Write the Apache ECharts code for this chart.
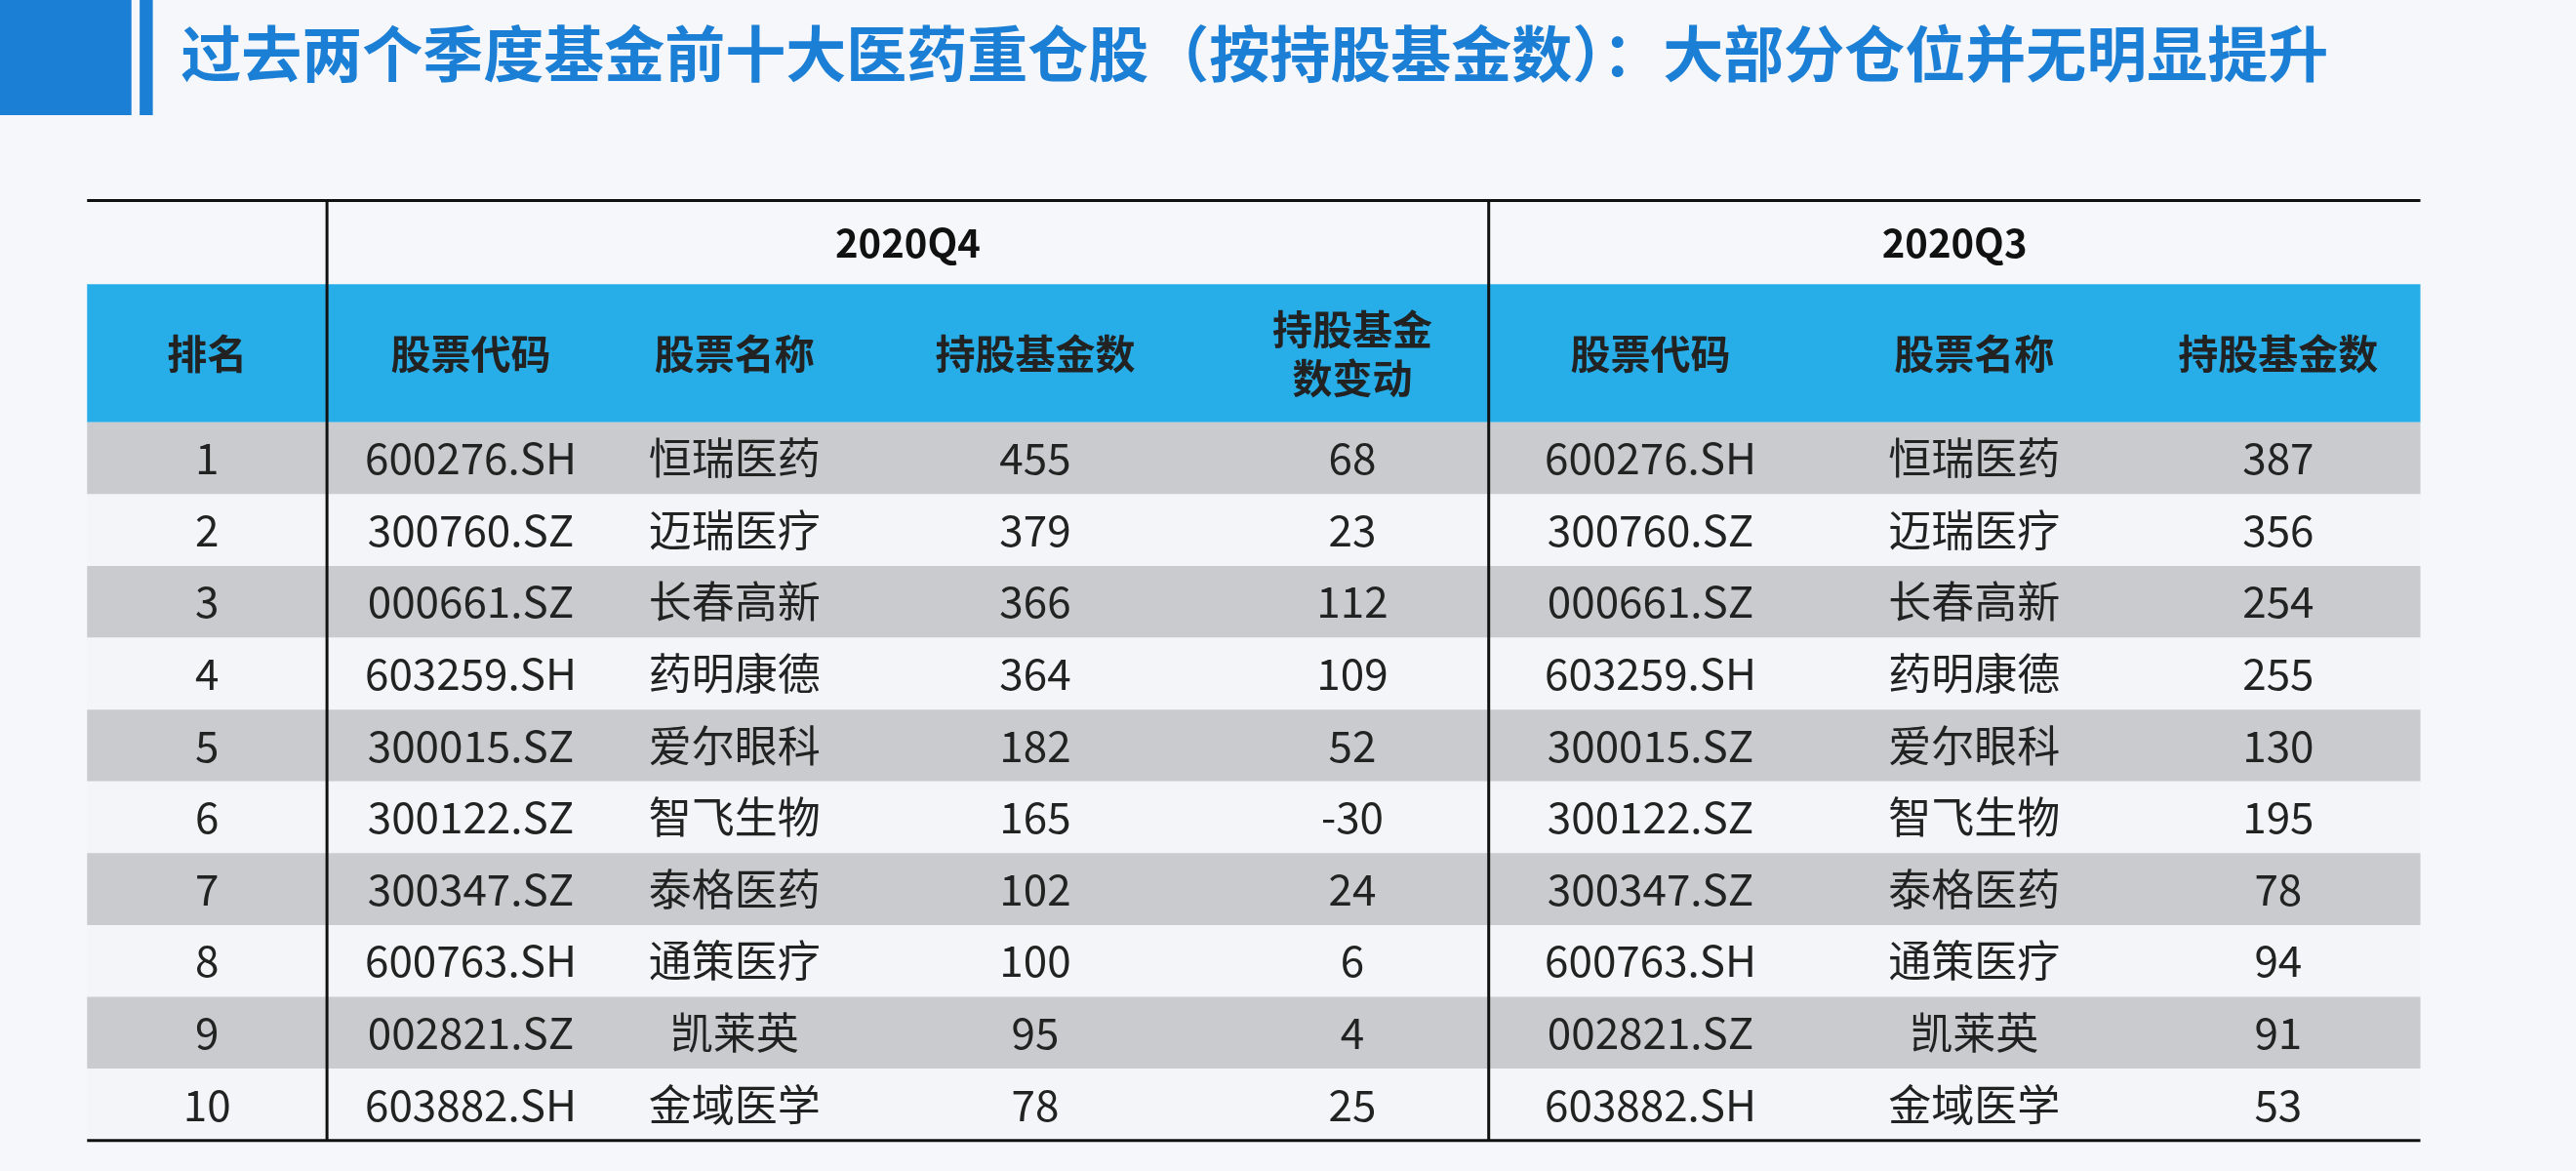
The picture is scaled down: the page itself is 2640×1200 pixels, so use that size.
<!DOCTYPE html>
<html><head><meta charset="utf-8">
<script src="https://cdn.jsdelivr.net/npm/echarts@6/dist/echarts.min.js"></script>
<style>html,body{margin:0;padding:0;background:#f5f7fa}</style>
</head><body>
<div id="main" style="width:2640px;height:1200px"></div>
<script>
var title = '过去两个季度基金前十大医药重仓股（按持股基金数）：大部分仓位并无明显提升';
var quarters = ['2020Q4', '2020Q3'];
var headers = ['排名', '股票代码', '股票名称', '持股基金数', '持股基金\n数变动', '股票代码', '股票名称', '持股基金数'];
var ranks = ['1','2','3','4','5','6','7','8','9','10'];
var codes = ['600276.SH','300760.SZ','000661.SZ','603259.SH','300015.SZ','300122.SZ','300347.SZ','600763.SH','002821.SZ','603882.SH'];
var names = ['恒瑞医药','迈瑞医疗','长春高新','药明康德','爱尔眼科','智飞生物','泰格医药','通策医疗','凯莱英','金域医学'];
var fundsQ4 = [455, 379, 366, 364, 182, 165, 102, 100, 95, 78];
var changeQ4 = [68, 23, 112, 109, 52, -30, 24, 6, 4, 25];
var fundsQ3 = [387, 356, 254, 255, 130, 195, 78, 94, 91, 53];

var s = 1.684;
var colEdges = [53, 199, 374, 520, 740, 906, 1103, 1300, 1473].map(function(v){return v*s;});
var yTop = 122*s, yHead = 173*s, yData = 257*s, rowH = 43.7*s;
var font = '"Noto Sans CJK SC", sans-serif';

var g = [];
// 标题装饰
g.push({type:'rect', shape:{x:0,y:0,width:80*s,height:70*s}, style:{fill:'#1c7fd6'}});
g.push({type:'rect', shape:{x:85*s,y:0,width:8*s,height:70*s}, style:{fill:'#1c7fd6'}});
g.push({type:'text', style:{x:110*s, y:33*s, text:title, fill:'#1c7fd6', font:'bold 62px '+font, verticalAlign:'middle'}});

var left = colEdges[0], right = colEdges[8];
g.push({type:'rect', shape:{x:left,y:yHead,width:right-left,height:yData-yHead}, style:{fill:'#27aee9'}});
for (var i = 0; i < ranks.length; i++) {
  var y = yData + i*rowH;
  g.push({type:'rect', shape:{x:left,y:y,width:right-left,height:rowH}, style:{fill: i%2===0 ? '#c9cbce' : '#f3f5f8'}});
  var vals = [ranks[i], codes[i], names[i], fundsQ4[i], changeQ4[i], codes[i], names[i], fundsQ3[i]];
  for (var c = 0; c < 8; c++) {
    g.push({type:'text', style:{x:(colEdges[c]+colEdges[c+1])/2, y:y+rowH/2, text:String(vals[c]), fill:'#222', font:'44px '+font, align:'center', verticalAlign:'middle'}});
  }
}
for (var c = 0; c < 8; c++) {
  g.push({type:'text', style:{x:(colEdges[c]+colEdges[c+1])/2, y:(yHead+yData)/2, text:headers[c], fill:'#222', font:'bold 41px '+font, align:'center', verticalAlign:'middle', lineHeight:50}});
}
g.push({type:'text', style:{x:(colEdges[1]+colEdges[5])/2, y:(yTop+yHead)/2, text:quarters[0], fill:'#111', font:'bold 40px '+font, align:'center', verticalAlign:'middle'}});
g.push({type:'text', style:{x:(colEdges[5]+colEdges[8])/2, y:(yTop+yHead)/2, text:quarters[1], fill:'#111', font:'bold 40px '+font, align:'center', verticalAlign:'middle'}});
var yBot = yData + ranks.length*rowH;
g.push({type:'line', shape:{x1:left,y1:yTop,x2:right,y2:yTop}, style:{stroke:'#111',lineWidth:3}});
g.push({type:'line', shape:{x1:left,y1:yBot,x2:right,y2:yBot}, style:{stroke:'#111',lineWidth:3}});
g.push({type:'line', shape:{x1:colEdges[1],y1:yTop,x2:colEdges[1],y2:yBot}, style:{stroke:'#111',lineWidth:3}});
g.push({type:'line', shape:{x1:colEdges[5],y1:yTop,x2:colEdges[5],y2:yBot}, style:{stroke:'#111',lineWidth:3}});

var myChart = echarts.init(document.getElementById('main'));
myChart.setOption({backgroundColor:'#f5f7fa', graphic:{elements:g}});
</script>
</body></html>
